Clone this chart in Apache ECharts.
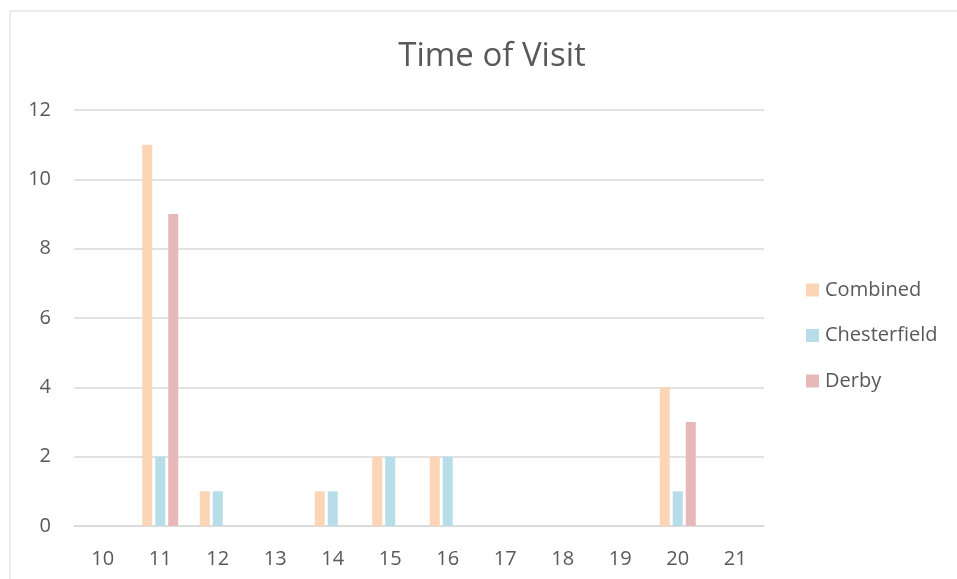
<!DOCTYPE html>
<html>
<head>
<meta charset="utf-8">
<script src="https://cdn.jsdelivr.net/npm/echarts@6/dist/echarts.min.js"></script>
<style>
html,body{margin:0;padding:0;background:#fff;}
#main{width:957px;height:579px;}
</style>
</head>
<body>
<div id="main"></div>
<script>
const categories = ['10','11','12','13','14','15','16','17','18','19','20','21'];
const combined     = [0, 11, 1, 0, 1, 2, 2, 0, 0, 0, 4, 0];
const chesterfield = [0, 2, 1, 0, 1, 2, 2, 0, 0, 0, 1, 0];
const derby        = [0, 9, 0, 0, 0, 0, 0, 0, 0, 0, 3, 0];
const seriesNames = ['Combined', 'Chesterfield', 'Derby'];
const colors = ['#FBD5B5', '#B7DDE8', '#E6B9B8'];

const chart = echarts.init(document.getElementById('main'));
const font = 'Open Sans';
const txt = '#595959';
const vals = [combined, chesterfield, derby];
chart.setOption({
  animation: false,
  color: colors,
  graphic: [{
    type: 'rect', shape: {x: 10, y: 11, width: 1000, height: 700},
    style: {fill: 'none', stroke: '#D9D9D9', lineWidth: 1}, silent: true, z: -1
  }],
  title: {
    text: 'Time of Visit', left: 487, top: 35, textAlign: 'center',
    textStyle: {fontFamily: font, fontSize: 33, fontWeight: 'normal', color: txt}
  },
  legend: {
    orient: 'vertical', left: 801, top: 275,
    itemWidth: 13, itemHeight: 13, itemGap: 25.5, icon: 'rect',
    textStyle: {fontFamily: font, fontSize: 20, color: txt, padding: [0,0,0,1]},
    data: seriesNames
  },
  grid: {left: 74, right: 193, top: 110, bottom: 53},
  xAxis: {
    type: 'category', data: categories,
    axisLine: {lineStyle: {color: '#D9D9D9', width: 1.5}},
    axisTick: {show: false},
    axisLabel: {fontFamily: font, fontSize: 20, color: txt, margin: 23}
  },
  yAxis: {
    type: 'value', min: 0, max: 12, interval: 2,
    axisLine: {show: false}, axisTick: {show: false},
    splitLine: {lineStyle: {color: '#D9D9D9', width: 1.5}},
    axisLabel: {fontFamily: font, fontSize: 20, color: txt, margin: 23}
  },
  series: seriesNames.map((n, i) => ({
    name: n, type: 'bar', data: vals[i], barWidth: 10, barGap: '30%'
  }))
});
</script>
</body>
</html>
